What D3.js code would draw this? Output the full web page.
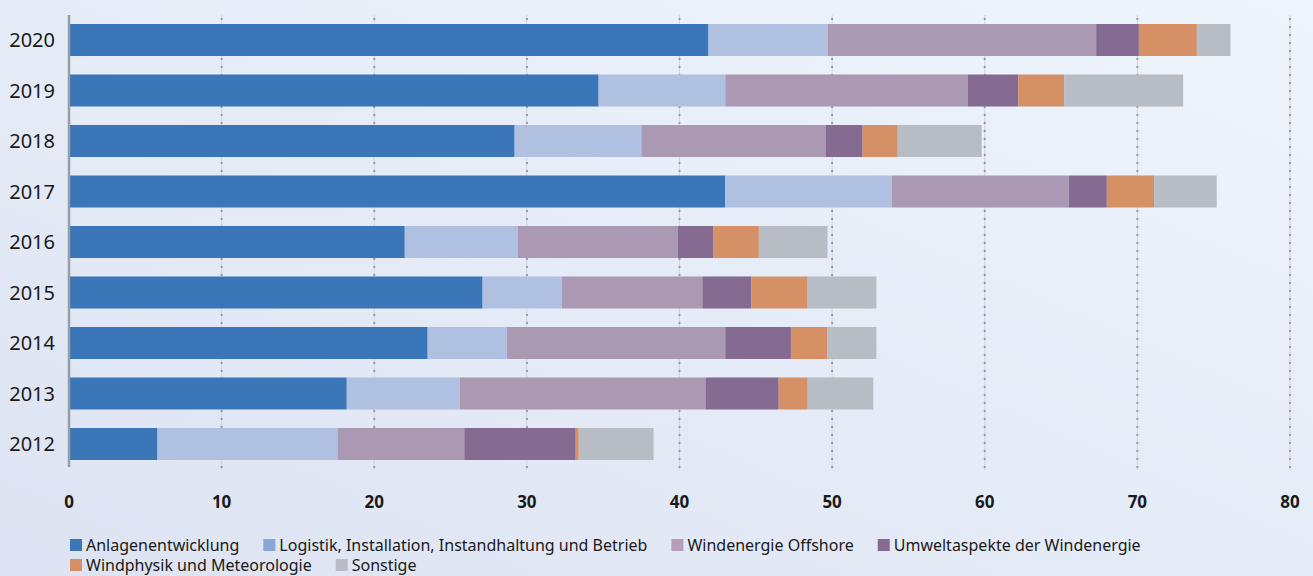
<!DOCTYPE html>
<html>
<head>
<meta charset="utf-8">
<script src="https://cdn.jsdelivr.net/npm/d3@7"></script>
<style>
	html, body { margin: 0; padding: 0; }
	body { width: 1313px; height: 576px; overflow: hidden; }
	text { font-family: "Noto Sans", "Open Sans", sans-serif; fill: #1a1a1a; }
</style>
</head>
<body>
<script>

// years, top to bottom
var years = ["2020", "2019", "2018", "2017", "2016", "2015", "2014", "2013", "2012"];

var seriesNames = [
	"Anlagenentwicklung",
	"Logistik, Installation, Instandhaltung und Betrieb",
	"Windenergie Offshore",
	"Umweltaspekte der Windenergie",
	"Windphysik und Meteorologie",
	"Sonstige"
];

// values per series, same order as years
var anlagen    = [41.9, 34.7, 29.2, 43.0, 22.0, 27.1, 23.5, 18.2, 5.8];
var logistik   = [7.8, 8.3, 8.3, 10.9, 7.4, 5.2, 5.2, 7.4, 11.8];
var offshore   = [17.6, 15.9, 12.1, 11.6, 10.5, 9.2, 14.3, 16.1, 8.3];
var umwelt     = [2.8, 3.3, 2.4, 2.5, 2.3, 3.2, 4.3, 4.8, 7.3];
var windphysik = [3.8, 3.0, 2.3, 3.1, 3.0, 3.7, 2.4, 1.9, 0.2];
var sonstige   = [2.2, 7.8, 5.5, 4.1, 4.5, 4.5, 3.2, 4.3, 4.9];

var xTicks = [0, 10, 20, 30, 40, 50, 60, 70, 80];

var barColors = ["#3b76b9", "#afc0e0", "#ab98b3", "#856a91", "#d59066", "#b8bcc4"];
var legendColors = ["#3b76b9", "#88a6d6", "#b59ebb", "#856a91", "#d59066", "#b8bcc4"];

var allSeries = [anlagen, logistik, offshore, umwelt, windphysik, sonstige];

var rows = years.map(function(y, i) {
	var r = { year: y };
	seriesNames.forEach(function(s, k) { r[s] = allSeries[k][i]; });
	return r;
});

var W = 1313, H = 576;

var svg = d3.select("body").append("svg")
	.attr("width", W)
	.attr("height", H);

// background gradient
var grad = svg.append("defs").append("linearGradient")
	.attr("id", "bg")
	.attr("x1", "0%").attr("y1", "100%")
	.attr("x2", "100%").attr("y2", "0%");
grad.append("stop").attr("offset", "0%").attr("stop-color", "#dde3f2");
grad.append("stop").attr("offset", "100%").attr("stop-color", "#eef5fc");

svg.append("rect")
	.attr("width", W).attr("height", H)
	.attr("fill", "url(#bg)");

var x = d3.scaleLinear().domain([0, 80]).range([69, 1290]);
var y = d3.scaleBand().domain(years).range([24, 460]).paddingInner(0.366).paddingOuter(0);

// grid lines
var grid = svg.append("g");
grid.selectAll("line.g")
	.data(xTicks.slice(1))
	.enter().append("line")
	.attr("class", "g")
	.attr("x1", function(d) { return x(d); })
	.attr("x2", function(d) { return x(d); })
	.attr("y1", 15).attr("y2", 470)
	.attr("stroke", "#cdd2db")
	.attr("stroke-width", 1);
grid.selectAll("line.d")
	.data(xTicks.slice(1))
	.enter().append("line")
	.attr("class", "d")
	.attr("x1", function(d) { return x(d); })
	.attr("x2", function(d) { return x(d); })
	.attr("y1", 18).attr("y2", 470)
	.attr("stroke", "#979ca5")
	.attr("stroke-width", 2)
	.attr("stroke-dasharray", "2,6");

// stacked bars
var stack = d3.stack().keys(seriesNames)(rows);

svg.append("g").selectAll("g")
	.data(stack)
	.enter().append("g")
	.attr("fill", function(d, i) { return barColors[i]; })
	.selectAll("rect")
	.data(function(d) { return d; })
	.enter().append("rect")
	.attr("x", function(d) { return x(d[0]); })
	.attr("width", function(d) { return x(d[1]) - x(d[0]); })
	.attr("y", function(d) { return y(d.data.year); })
	.attr("height", y.bandwidth());

// left axis line
svg.append("line")
	.attr("x1", 69).attr("x2", 69)
	.attr("y1", 15).attr("y2", 467)
	.attr("stroke", "#999da4")
	.attr("stroke-width", 2.5);

// year labels
svg.append("g").selectAll("text")
	.data(years)
	.enter().append("text")
	.attr("x", 55)
	.attr("y", function(d) { return y(d) + y.bandwidth() / 2; })
	.attr("dy", "0.36em")
	.attr("text-anchor", "end")
	.style("font-size", "20px")
	.text(function(d) { return d; });

// x tick labels
svg.append("g").selectAll("text")
	.data(xTicks)
	.enter().append("text")
	.attr("x", function(d) { return x(d); })
	.attr("y", 508)
	.attr("text-anchor", "middle")
	.style("font-size", "17px")
	.style("font-weight", "bold")
	.text(function(d) { return d; });

// legend
var legend = svg.append("g");
var lx = 70, ly = 545, maxX = 1200;
seriesNames.forEach(function(s, i) {
	var g = legend.append("g");
	g.append("rect")
		.attr("width", 12).attr("height", 12)
		.attr("y", -6)
		.attr("fill", legendColors[i]);
	var t = g.append("text")
		.attr("x", 16)
		.attr("dy", "0.36em")
		.style("font-size", "16px")
		.text(s);
	var w = 16 + t.node().getComputedTextLength();
	if (lx + w > maxX) { lx = 70; ly += 20; }
	g.attr("transform", "translate(" + lx + "," + ly + ")");
	lx += w + 24;
});

</script>
</body>
</html>
